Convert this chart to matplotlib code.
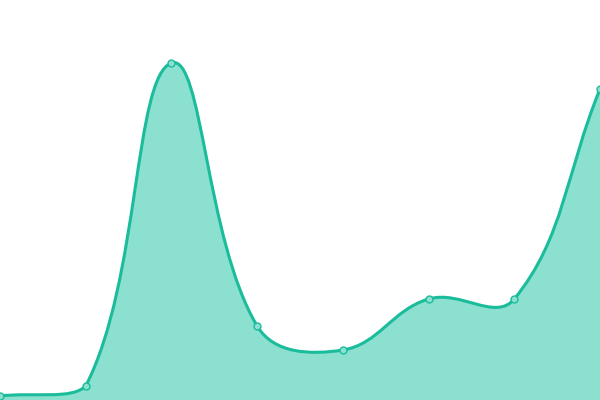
import numpy as np
import matplotlib
matplotlib.use("Agg")
import matplotlib.pyplot as plt
from matplotlib.path import Path
from matplotlib.patches import PathPatch

# values (plot spans 0..400 vertically)
labels = ["1", "2", "3", "4", "5", "6", "7", "8"]
values = [4, 14, 337, 74, 50, 101, 101, 311]

line_color = "#1abc9c"
fill_color = "#8be0d0"
tension = 0.4

fig = plt.figure(figsize=(6, 4), dpi=100)
ax = fig.add_axes([0, 0, 1, 1])
ax.set_xlim(0, 600)
ax.set_ylim(0, 400)
ax.axis("off")

n = len(values)
xs = np.linspace(0, 600, n)
ys = np.array(values, dtype=float)
pts = np.column_stack([xs, ys])

# chart.js style control points
cps = []
for i in range(n):
    prev = pts[max(i - 1, 0)]
    cur = pts[i]
    nxt = pts[min(i + 1, n - 1)]
    d01 = np.hypot(*(cur - prev))
    d12 = np.hypot(*(nxt - cur))
    tot = d01 + d12
    s01 = d01 / tot if tot else 0
    s12 = d12 / tot if tot else 0
    fa = tension * s01
    fb = tension * s12
    c1 = cur - fa * (nxt - prev)
    c2 = cur + fb * (nxt - prev)
    c1[1] = np.clip(c1[1], 0, 400)
    c2[1] = np.clip(c2[1], 0, 400)
    cps.append((c1, c2))

verts = [pts[0]]
codes = [Path.MOVETO]
for i in range(n - 1):
    verts += [cps[i][1], cps[i + 1][0], pts[i + 1]]
    codes += [Path.CURVE4] * 3

line_path = Path(verts, codes)
fill_path = Path(verts + [(600, 0), (0, 0), pts[0]],
                 codes + [Path.LINETO, Path.LINETO, Path.CLOSEPOLY])

ax.add_patch(PathPatch(fill_path, facecolor=fill_color, edgecolor="none"))
ax.add_patch(PathPatch(line_path, facecolor="none", edgecolor=line_color, lw=2.2,
                       capstyle="round", joinstyle="round"))
ax.plot(xs, ys, "o", ms=5, mfc=fill_color, mec=line_color, mew=1, clip_on=False)

fig.savefig("out.png", dpi=100)
